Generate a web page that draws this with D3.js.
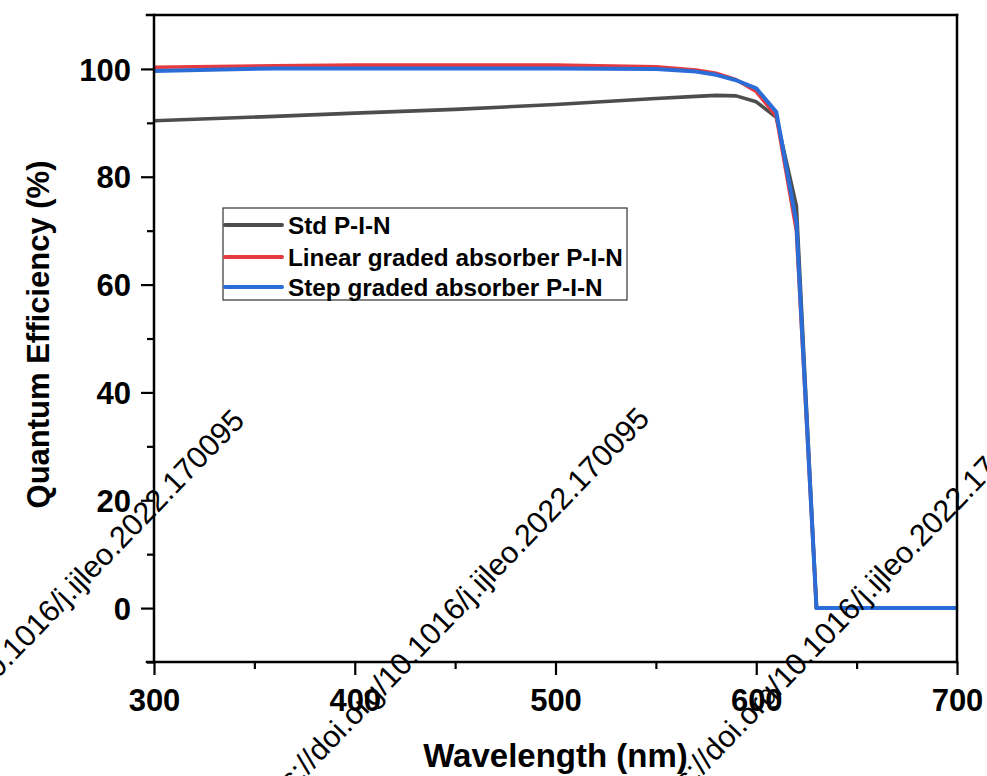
<!DOCTYPE html>
<html>
<head>
<meta charset="utf-8">
<script src="https://cdn.jsdelivr.net/npm/d3@7"></script>
<style>
  html, body { margin: 0; padding: 0; background: #fff; }
  svg { display: block; }
  .tick text { font-family: "Liberation Sans", Arial, sans-serif; font-weight: bold; }
</style>
</head>
<body>
<div id="chart"></div>
<script>
// --- data ---
const wavelength = [300, 360, 400, 450, 500, 550, 570, 580, 590, 600, 610, 620, 630, 700];
const stdPIN     = [90.4, 91.2, 91.8, 92.5, 93.4, 94.5, 94.9, 95.1, 95.0, 93.9, 91.0, 74.6, 0, 0];
const linearPIN  = [100.3, 100.6, 100.7, 100.7, 100.7, 100.4, 99.8, 99.2, 98.0, 95.8, 91.2, 70.0, 0, 0];
const stepPIN    = [99.6, 100.1, 100.1, 100.1, 100.1, 100.0, 99.5, 98.9, 97.9, 96.4, 92.0, 71.5, 0, 0];

const seriesNames  = ["Std P-I-N", "Linear graded absorber P-I-N", "Step graded absorber P-I-N"];
const seriesColors = ["#4d4d4d", "#e53b40", "#2a6dd6"];
const seriesValues = [stdPIN, linearPIN, stepPIN];

const xMajorTicks = [300, 400, 500, 600, 700];
const xMinorTicks = [350, 450, 550, 650];
const yMajorTicks = [0, 20, 40, 60, 80, 100];
const yMinorTicks = [-10, 10, 30, 50, 70, 90];

const watermark = "https://doi.org/10.1016/j.ijleo.2022.170095";

// --- layout ---
const W = 987, H = 776;
const margin = { top: 15, right: 30, bottom: 114, left: 154 };
const font = '"Liberation Sans", Arial, sans-serif';

const svg = d3.select("#chart").append("svg")
    .attr("width", W).attr("height", H);
svg.append("rect").attr("width", W).attr("height", H).attr("fill", "#fff");

const x = d3.scaleLinear().domain([300, 700]).range([margin.left, W - margin.right]);
const y = d3.scaleLinear().domain([-10, 110]).range([H - margin.bottom, margin.top]);

const x0 = x.range()[0], x1 = x.range()[1];
const yb = y.range()[0], yt = y.range()[1];

// curves
const line = d3.line().x((d, i) => x(wavelength[i])).y(d => y(d));
seriesValues.forEach((vals, k) => {
    svg.append("path").datum(vals)
        .attr("fill", "none")
        .attr("stroke", seriesColors[k])
        .attr("stroke-width", k === 2 ? 4 : 3.6)
        .attr("stroke-linejoin", "round")
        .attr("d", line);
});

// frame
const frame = svg.append("g").attr("stroke", "#000").attr("stroke-width", 2.5).attr("stroke-linecap", "square");
frame.append("line").attr("x1", x0 - 7).attr("x2", x1).attr("y1", yb).attr("y2", yb);
frame.append("line").attr("x1", x0 - 7).attr("x2", x1).attr("y1", yt).attr("y2", yt);
frame.append("line").attr("x1", x0).attr("x2", x0).attr("y1", yt).attr("y2", yb);
frame.append("line").attr("x1", x1).attr("x2", x1).attr("y1", yt).attr("y2", yb);

// axes
const xAxis = svg.append("g").attr("transform", `translate(0,${yb})`)
    .call(d3.axisBottom(x).tickValues(xMajorTicks).tickSize(13).tickPadding(14).tickFormat(d3.format("d")));
const xMinor = svg.append("g").attr("transform", `translate(0,${yb})`)
    .call(d3.axisBottom(x).tickValues(xMinorTicks).tickSize(7).tickFormat(""));
const yAxis = svg.append("g").attr("transform", `translate(${x0},0)`)
    .call(d3.axisLeft(y).tickValues(yMajorTicks).tickSize(13).tickPadding(10).tickFormat(d3.format("d")));
const yMinor = svg.append("g").attr("transform", `translate(${x0},0)`)
    .call(d3.axisLeft(y).tickValues(yMinorTicks).tickSize(7).tickFormat(""));

[xAxis, xMinor, yAxis, yMinor].forEach(g => {
    g.select(".domain").remove();
    g.selectAll(".tick line").attr("stroke", "#000").attr("stroke-width", 2.2);
});
xAxis.selectAll(".tick text").attr("font-size", 31).attr("fill", "#000");
yAxis.selectAll(".tick text").attr("font-size", 31).attr("fill", "#000").attr("dy", "0.36em");

// axis titles
svg.append("text")
    .attr("x", (x0 + x1) / 2).attr("y", 767)
    .attr("text-anchor", "middle")
    .attr("font-family", font).attr("font-weight", "bold").attr("font-size", 33)
    .text("Wavelength (nm)");
svg.append("text")
    .attr("transform", `translate(49,${(yt + yb) / 2 - 4}) rotate(-90)`)
    .attr("text-anchor", "middle")
    .attr("font-family", font).attr("font-weight", "bold").attr("font-size", 31)
    .text("Quantum Efficiency (%)");

// legend
const legend = svg.append("g");
legend.append("rect")
    .attr("x", 223).attr("y", 208).attr("width", 404).attr("height", 92)
    .attr("fill", "#fff").attr("stroke", "#333").attr("stroke-width", 1.2);
const rowY = [225, 257, 287];
seriesNames.forEach((name, k) => {
    legend.append("line")
        .attr("x1", 225).attr("x2", 282).attr("y1", rowY[k]).attr("y2", rowY[k])
        .attr("stroke", seriesColors[k]).attr("stroke-width", 4).attr("stroke-linecap", "round");
    legend.append("text")
        .attr("x", 288).attr("y", rowY[k]).attr("dy", "0.35em")
        .attr("font-family", font).attr("font-weight", "bold").attr("font-size", 24.3)
        .attr("fill", "#000")
        .text(name);
});

// DOI watermark, repeated along the diagonal
const wmEnds = [[246, 422], [651, 420], [1046, 420]];
wmEnds.forEach(([ex, ey]) => {
    svg.append("text")
        .attr("transform", `translate(${ex},${ey}) rotate(-46)`)
        .attr("text-anchor", "end")
        .attr("font-family", font).attr("font-size", 30.5)
        .attr("fill", "#000")
        .text(watermark);
});
</script>
</body>
</html>
